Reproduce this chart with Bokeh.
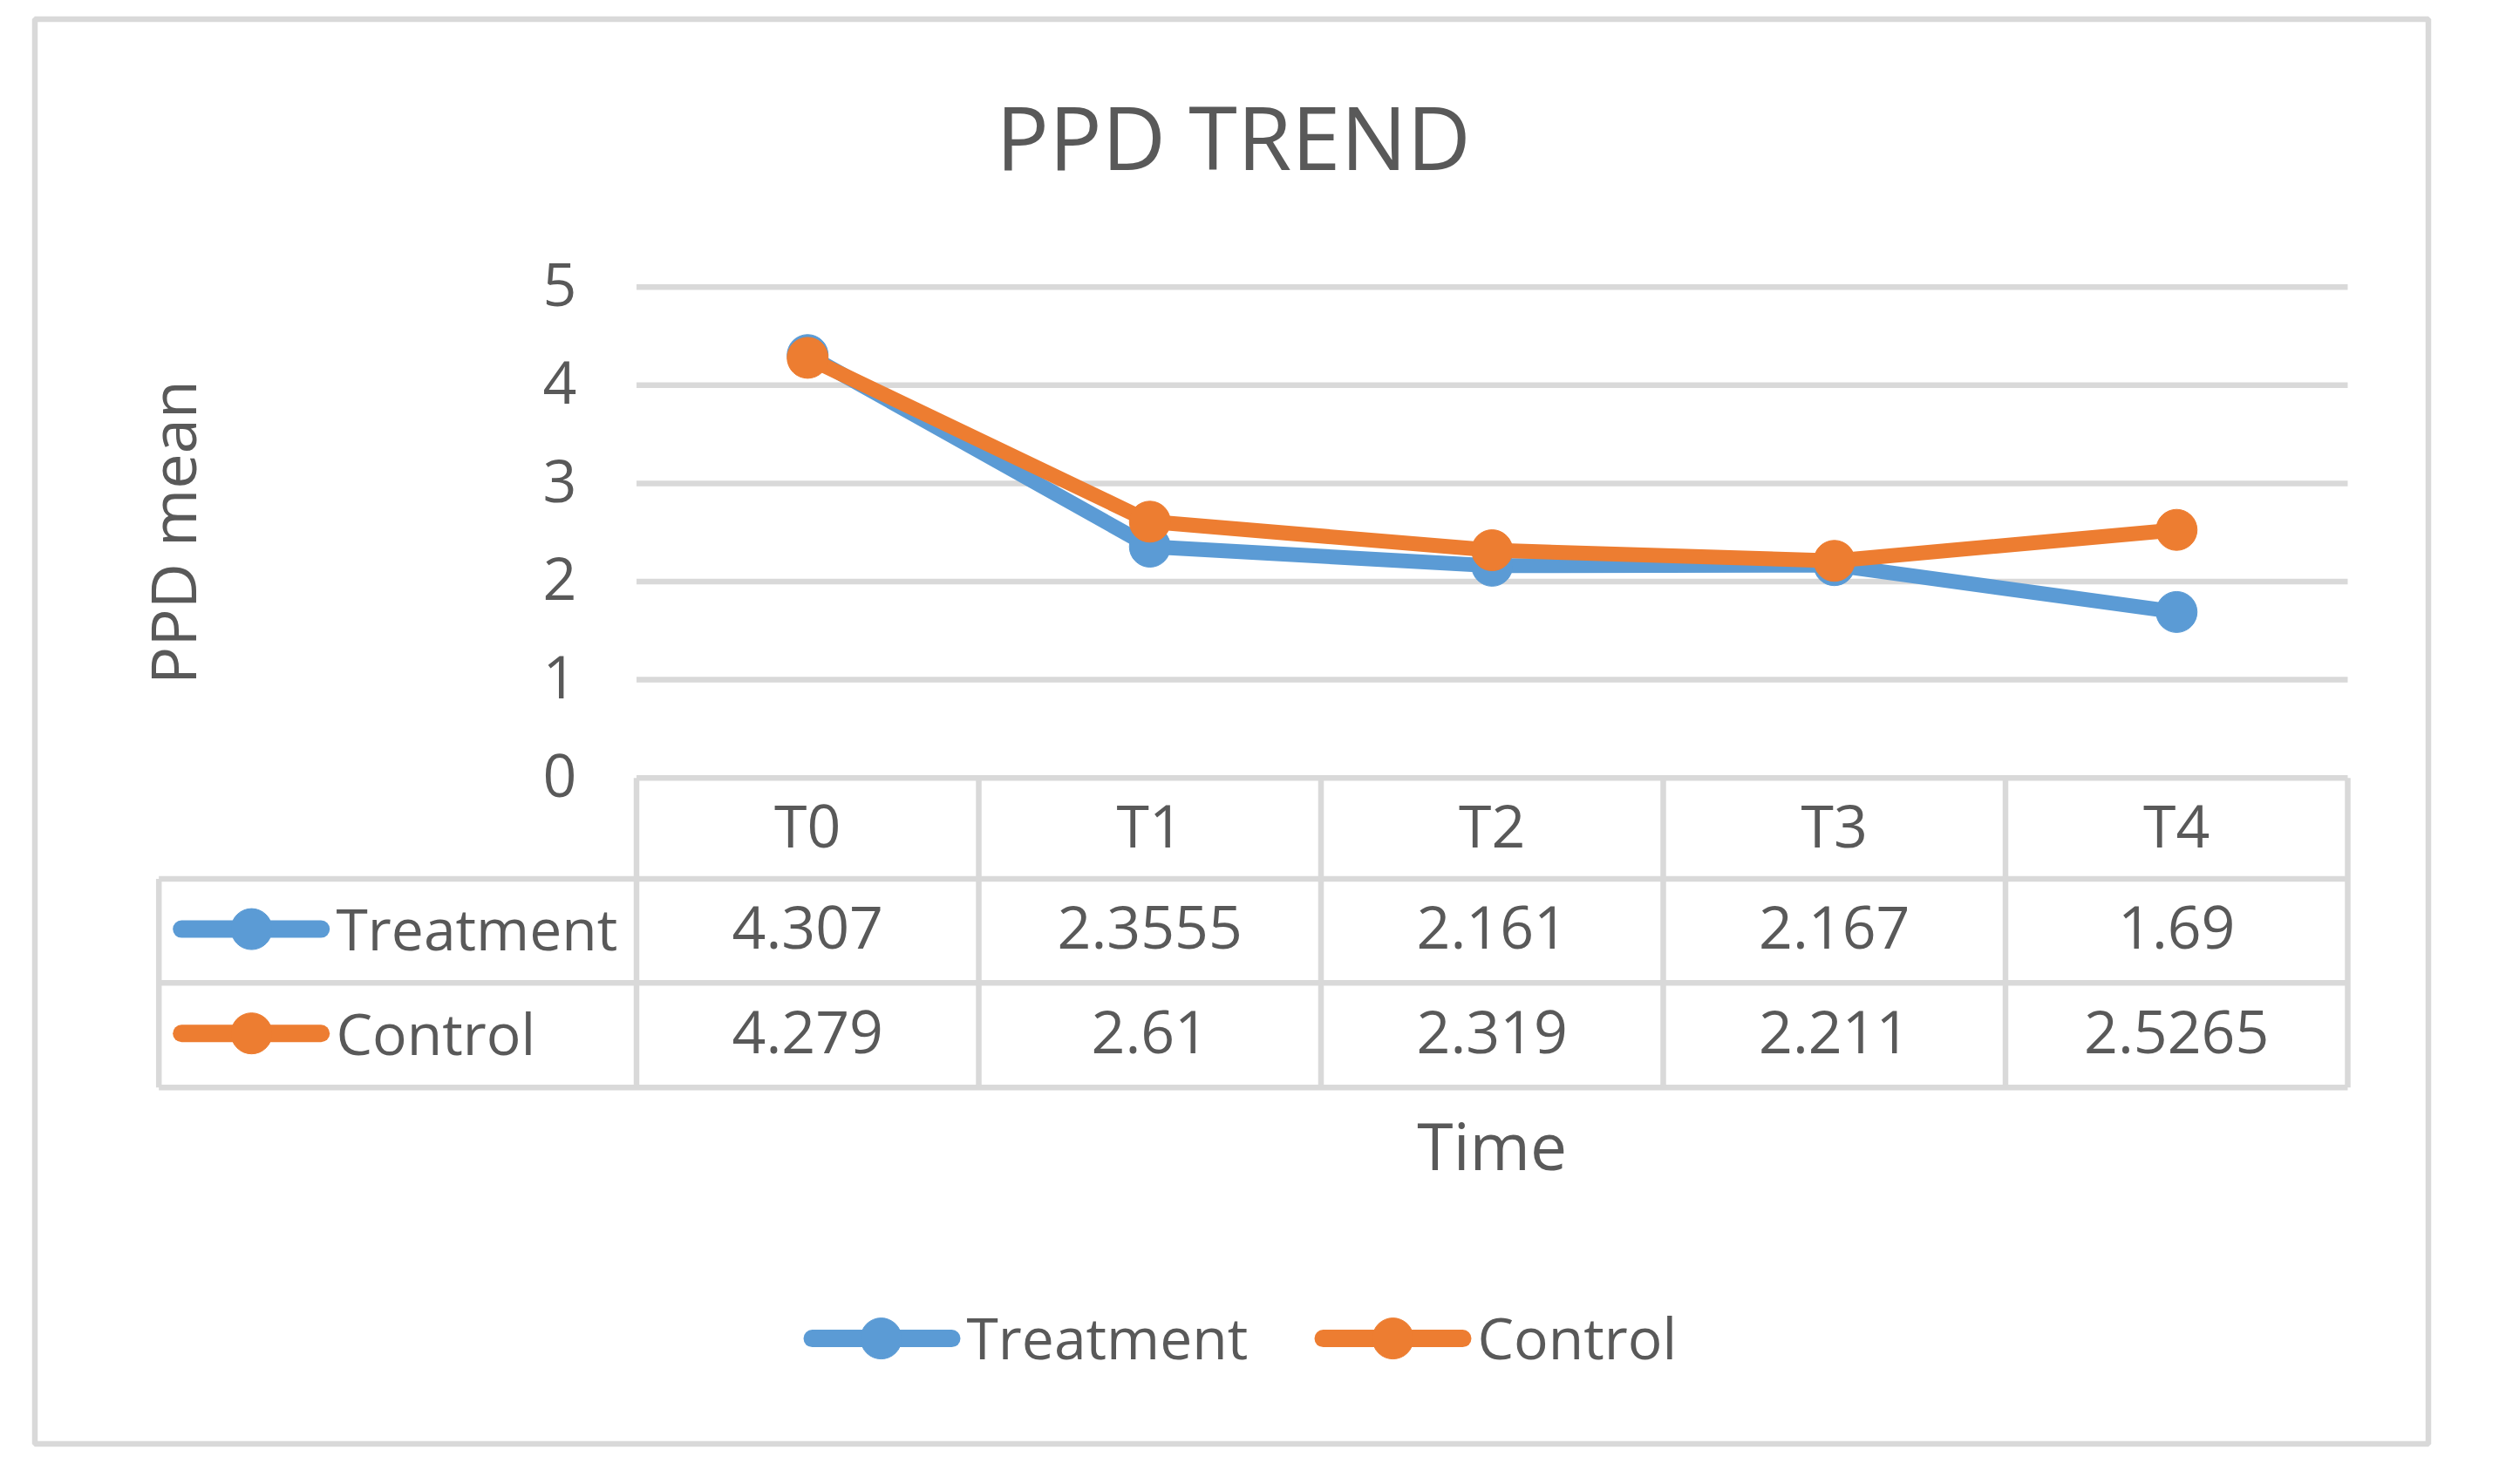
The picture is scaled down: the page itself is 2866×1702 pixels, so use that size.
from bokeh.plotting import figure
from bokeh.models import Range1d
from bokeh.embed import file_html
from bokeh.resources import INLINE
from bokeh.core.properties import value

# ---------------- data ----------------
categories = ["T0", "T1", "T2", "T3", "T4"]
treatment = [4.307, 2.3555, 2.161, 2.167, 1.69]
control = [4.279, 2.61, 2.319, 2.211, 2.5265]
treatment_labels = ["4.307", "2.3555", "2.161", "2.167", "1.69"]
control_labels = ["4.279", "2.61", "2.319", "2.211", "2.5265"]
y_ticks = [0, 1, 2, 3, 4, 5]
series_names = ["Treatment", "Control"]
title_text = "PPD TREND"
y_title = "PPD mean"
x_title = "Time"

# ---------------- style ----------------
W, H = 2850, 1686
BLUE = "#5B9BD5"
ORANGE = "#ED7D31"
TXT = "#595959"
GRID = "#D9D9D9"
FONT = value("Open Sans")
K = 0.37            # baseline correction (fraction of font size)

X0_PX = 925.75      # pixel of the first category centre
COL_W = 392.5       # category width in pixels
Y0_PX = 891.7       # pixel of value 0
UNIT = 112.6        # pixels per value unit


def X(i):
    return X0_PX + COL_W * i


def Y(v):
    return Y0_PX - UNIT * v


def B(y, size):
    return y - K * size


p = figure(width=W, height=H, output_backend="svg", toolbar_location=None,
           x_range=Range1d(-X0_PX / COL_W, (W - X0_PX) / COL_W),
           y_range=Range1d(-(H - Y0_PX) / UNIT, Y0_PX / UNIT),
           x_axis_location=None, y_axis_location=None, min_border=0)
p.extra_x_ranges = {"px": Range1d(0, W)}
p.extra_y_ranges = {"px": Range1d(H, 0)}
p.grid.visible = False
p.outline_line_color = None
p.background_fill_color = "white"
p.border_fill_color = "white"

PX = dict(x_range_name="px", y_range_name="px")


def label(xs, ys, texts, size, align="center", **kw):
    p.text(x=xs, y=[B(y, size) for y in ys], text=texts, text_font=FONT,
           text_font_size=f"{size}px", text_color=TXT, text_align=align,
           text_baseline="alphabetic", **PX, **kw)


# outer chart border
p.quad(left=[39.5], right=[2784.5], top=[21.5], bottom=[1655.5], fill_color=None,
       line_color=GRID, line_width=6.5, **PX)

# horizontal gridlines (value scale)
n = len(categories)
gl = [t for t in y_ticks if t > 0]
p.segment(x0=[-0.5] * len(gl), x1=[n - 0.5] * len(gl), y0=gl, y1=gl,
          line_color=GRID, line_width=6.5)

# ---------------- data table ----------------
left_edge = 181.7
row_hdr_bot = 1007.5
row1_bot = 1126.7
row2_bot = 1246.7
col_edges = [X(k - 0.5) for k in range(n + 1)]
hx0 = [col_edges[0], left_edge, left_edge, left_edge]
hx1 = [col_edges[-1]] * 4
hy = [Y(0), row_hdr_bot, row1_bot, row2_bot]
p.segment(x0=hx0, x1=hx1, y0=hy, y1=hy, line_color=GRID, line_width=6.5, **PX)
vx = col_edges + [left_edge]
vy0 = [Y(0)] * len(col_edges) + [row_hdr_bot]
vy1 = [row2_bot] * len(vx)
p.segment(x0=vx, x1=vx, y0=vy0, y1=vy1, line_color=GRID, line_width=6.5, **PX)

hdr_c = (Y(0) + row_hdr_bot) / 2
r1_c = (row_hdr_bot + row1_bot) / 2
r2_c = (row1_bot + row2_bot) / 2
BOFF = 21
LS = 68     # table values / ticks
NS = 66     # series names

cx = [X(i) for i in range(n)]
label(cx, [hdr_c + BOFF] * n, categories, LS)
label(cx, [r1_c + BOFF] * n, treatment_labels, LS)
label(cx, [r2_c + BOFF] * n, control_labels, LS)

# row legend keys
for rc, col, name in [(r1_c, BLUE, series_names[0]), (r2_c, ORANGE, series_names[1])]:
    p.segment(x0=[207.7], x1=[367.7], y0=[rc - 2], y1=[rc - 2], line_color=col,
              line_width=20, line_cap="round", **PX)
    p.scatter(x=[288], y=[rc - 2], size=47, fill_color=col, line_color=col, **PX)
    label([385], [rc + BOFF], [name], NS, align="left")

# ---------------- series ----------------
xs = list(range(n))
p.line(x=xs, y=treatment, line_color=BLUE, line_width=17, line_join="round")
p.scatter(x=xs, y=treatment, size=47, fill_color=BLUE, line_color=BLUE)
p.line(x=xs, y=control, line_color=ORANGE, line_width=17, line_join="round")
p.scatter(x=xs, y=control, size=47, fill_color=ORANGE, line_color=ORANGE)

# ---------------- y tick labels ----------------
label([661] * len(y_ticks), [Y(t) + 22 for t in y_ticks], [str(t) for t in y_ticks], LS,
      align="right")

# ---------------- titles ----------------
label([1414], [192.7], [title_text], 101)
p.text(x=[223.4 - K * 72], y=[610], text=[y_title], angle=1.5707963, text_font=FONT,
       text_font_size="72px", text_color=TXT, text_align="center",
       text_baseline="alphabetic", **PX)
label([X(2)], [1340], [x_title], 75)

# ---------------- bottom legend ----------------
leg_y = 1534.6
for (lx0, mx, tx, col, name) in [(931, 1010, 1108, BLUE, series_names[0]),
                                  (1517, 1597, 1694, ORANGE, series_names[1])]:
    p.segment(x0=[lx0], x1=[lx0 + 160], y0=[leg_y], y1=[leg_y], line_color=col,
              line_width=20, line_cap="round", **PX)
    p.scatter(x=[mx], y=[leg_y], size=47, fill_color=col, line_color=col, **PX)
    label([tx], [1557.3], [name], NS, align="left")

open("out.html", "w").write(file_html(p, INLINE))
